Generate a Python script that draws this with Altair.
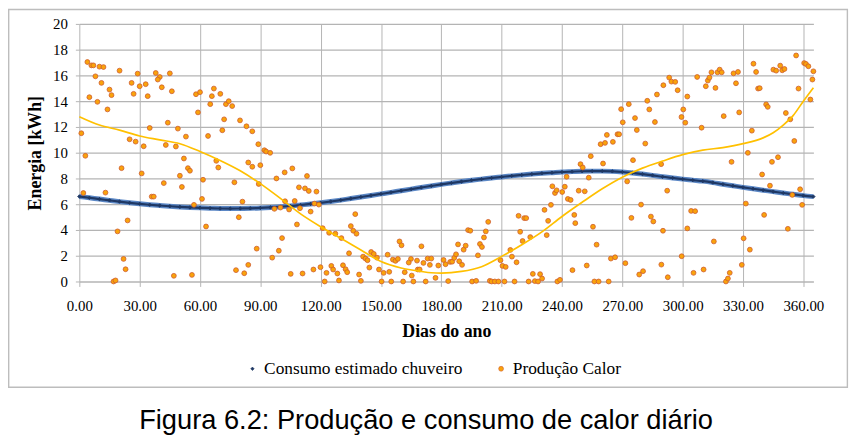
import altair as alt
import pandas as pd

SERIES = ["Consumo estimado chuveiro", "Produção Calor"]
CAPTION = "Figura 6.2: Produção e consumo de calor diário"

# Consumo estimado chuveiro (kWh), read every 5 days
cons_day = [0, 5, 10, 15, 20, 25, 30, 35, 40, 45, 50, 55, 60, 65, 70, 75, 80, 85, 90, 95,
            100, 105, 110, 115, 120, 125, 130, 135, 140, 145, 150, 155, 160, 165, 170, 175,
            180, 185, 190, 195, 200, 205, 210, 215, 220, 225, 230, 235, 240, 245, 250, 255,
            260, 265, 270, 275, 280, 285, 290, 295, 300, 305, 310, 315, 320, 325, 330, 335,
            340, 345, 350, 355, 360, 365]
cons_val = [6.60, 6.50, 6.40, 6.30, 6.20, 6.11, 6.03, 5.96, 5.90, 5.84, 5.79, 5.75, 5.72, 5.69,
            5.67, 5.66, 5.67, 5.68, 5.71, 5.75, 5.80, 5.86, 5.94, 6.02, 6.11, 6.21, 6.32, 6.44,
            6.56, 6.68, 6.80, 6.92, 7.05, 7.17, 7.30, 7.42, 7.54, 7.65, 7.76, 7.86, 7.95, 8.04,
            8.12, 8.20, 8.27, 8.34, 8.40, 8.45, 8.50, 8.53, 8.56, 8.57, 8.57, 8.55, 8.50, 8.43,
            8.34, 8.24, 8.13, 8.04, 7.95, 7.87, 7.79, 7.68, 7.55, 7.43, 7.31, 7.20, 7.09, 6.98,
            6.87, 6.77, 6.67, 6.59]

# Produção Calor (kWh) - daily scatter
prod_day = [
    4, 6, 7, 10, 12, 20, 29, 38, 40, 39, 45, 8, 11, 26, 30, 33, 41, 46, 15, 16, 5, 9, 27, 34, 14,
    58, 60, 59, 44, 35, 49, 1, 53, 25, 28, 32, 43, 48, 52, 3, 21, 31, 54, 55, 50, 42, 51, 61.5, 2,
    13, 36, 37, 57, 61, 24, 19, 22, 23, 47, 56, 17, 18,
    66.9, 65.9, 70.1, 65.1, 72.9, 74.3, 76.0, 72.0, 79.9, 83.1, 86.0, 71.1, 64.0, 89.0, 92.0,
    92.9, 94.9, 68.1, 69.1, 84.0, 86.0, 90.0, 102.1, 105.9, 113.2, 98.0, 77.1, 109.2, 112.2,
    114.1, 117.9, 89.2, 81.1, 102.3, 107.1, 97.0, 100.0, 104.3, 109.7, 116.9, 119.1, 115.0,
    79.3, 63.0, 108.2, 121.0, 100.8, 88.2, 99.2, 95.9, 84.0, 77.9, 82.0, 119.9, 116.4, 105.1,
    111.0, 122.9, 122.0,
    137.2, 135.0, 136.2, 137.8, 124.2, 127.3, 130.3, 134.1, 141.1, 142.3, 143.3, 145.1, 146.4,
    148.0, 153.3, 155.9, 157.2, 158.4, 159.2, 160.2, 164.9, 163.8, 167.9, 170.1, 171.1, 173.2,
    174.3, 175.0, 178.5, 181.1, 182.1, 184.4, 125.3, 126.2, 128.3, 129.1, 131.1, 132.4, 133.2,
    139.1, 140.0, 144.2, 149.0, 150.3, 151.3, 154.1, 155.1, 161.0, 161.8, 165.3, 166.1, 168.3,
    169.2, 172.2, 177.1, 183.4,
    185.4, 186.4, 187.3, 188.3, 191.1, 192.1, 188.9, 190.3, 193.3, 194.4, 198.2, 199.2, 200.2,
    201.2, 202.1, 203.3, 209.4, 210.4, 212.0, 214.3, 215.1, 217.4, 218.4, 219.2, 220.4, 221.2,
    222.2, 224.2, 225.5, 229.1, 230.1, 231.3, 232.4, 233.1, 234.5, 235.2, 236.5, 237.3, 240.1,
    241.4, 242.3, 242.9, 244.3, 245.2, 246.1, 246.6, 195.3, 197.3, 204.1, 205.0, 206.6, 208.4,
    211.4, 216.4, 223.4, 226.5, 228.1, 237.7, 239.0,
    249.2, 250.3, 254.3, 253.3, 248.3, 251.3, 255.4, 257.2, 260.4, 259.2, 261.4, 262.3, 265.3,
    267.6, 268.4, 269.4, 270.2, 273.2, 275.3, 276.3, 277.2, 281.4, 272.4, 279.3, 274.5, 282.4,
    283.4, 286.2, 287.2, 289.3, 290.4, 292.3, 293.3, 294.4, 296.3, 297.5, 302.3, 300.3, 299.4,
    301.3, 307.2, 284.2, 285.4, 290.2, 302.3, 304.2, 306.2, 264.3, 266.4, 271.5, 289.4, 299.5,
    252.3, 256.1, 258.2, 263.2, 278.4, 280.3, 292.6, 305.4,
    311.5, 312.5, 313.3, 314.3, 317.3, 318.4, 319.4, 316.3, 325.3, 327.5, 326.5, 335.2, 336.5,
    337.5, 338.3, 345.1, 346.5, 348.5, 349.5, 350.6, 356.4, 360.4, 361.3, 362.5, 365.0, 364.5,
    357.6, 363.5, 341.5, 342.3, 351.3, 353.5, 328.1, 320.4, 309.4, 334.4, 355.5, 332.4, 324.3,
    344.4, 347.4, 339.5, 343.4, 354.5, 358.4, 359.4, 331.4, 340.5, 352.3, 330.3, 333.4, 315.5,
    329.4, 310.4, 321.5, 322.5, 323.4,
]
prod_val = [
    17.04, 16.78, 16.78, 16.68, 16.65, 16.37, 16.14, 16.19, 15.88, 15.68, 16.16, 15.93, 15.42,
    15.42, 15.16, 15.32, 15.08, 14.77, 14.90, 14.47, 14.31, 13.95, 14.57, 14.39, 13.36, 14.54,
    14.70, 13.13, 12.33, 11.92, 11.87, 11.51, 11.25, 11.04, 10.86, 10.50, 10.60, 10.48, 9.55,
    9.76, 8.80, 8.39, 8.80, 8.60, 8.21, 7.64, 7.34, 7.90, 6.87, 6.90, 6.59, 6.59, 5.95, 6.41,
    4.74, 3.89, 1.75, 0.95, 0.44, 0.51, 0.00, 0.08,
    14.98, 14.39, 14.57, 13.77, 13.77, 14.00, 13.62, 12.59, 12.51, 12.05, 11.66, 11.74, 11.30,
    10.66, 10.19, 10.09, 9.99, 9.37, 8.85, 9.24, 8.91, 9.03, 8.47, 8.78, 8.19, 8.00, 7.70, 7.31,
    7.23, 7.03, 6.98, 7.57, 6.20, 6.23, 6.25, 5.64, 5.74, 5.59, 5.69, 6.05, 5.97, 5.43, 4.99,
    4.27, 4.43, 4.14, 3.37, 2.55, 2.39, 1.85, 1.29, 0.88, 0.64, 1.11, 0.93, 0.59, 0.62, 0.67,
    0.00,
    5.23, 4.30, 3.94, 3.71, 3.78, 3.71, 3.37, 2.19, 1.93, 1.78, 1.65, 2.29, 2.14, 1.85, 2.08,
    1.70, 1.60, 1.75, 3.11, 2.81, 1.75, 1.47, 1.62, 2.73, 1.44, 1.78, 1.29, 1.78, 1.24, 1.67,
    1.34, 1.52, 1.21, 0.93, 0.62, 0.08, 1.26, 0.95, 0.72, 0.54, 0.05, 1.08, 0.93, 0.00, 0.67,
    0.75, 0.00, 0.00, 0.72, 0.46, 0.00, 0.93, 0.93, 0.00, 0.28, 0.03,
    1.54, 1.83, 2.11, 2.88, 2.47, 2.78, 1.57, 1.29, 3.99, 3.94, 2.03, 2.91, 2.68, 3.42, 3.89,
    4.63, 1.65, 1.21, 1.13, 2.45, 1.93, 1.49, 5.10, 3.86, 3.14, 4.92, 4.92, 3.45, 0.59, 0.57,
    0.23, 5.56, 3.60, 4.71, 5.95, 7.39, 6.87, 7.08, 6.95, 7.36, 8.13, 6.41, 6.33, 0.88, 5.17,
    4.53, 0.00, 0.05, 0.05, 0.00, 0.00, 0.00, 0.00, 0.00, 0.00, 0.03, 0.00, 0.00, 0.13,
    9.11, 8.85, 9.73, 8.06, 7.05, 7.00, 4.25, 2.86, 9.16, 10.66, 10.76, 11.38, 10.84, 11.43,
    11.43, 13.38, 12.36, 13.77, 9.42, 12.69, 11.76, 10.71, 7.77, 5.97, 4.94, 14.03, 13.36,
    12.38, 14.52, 9.11, 15.24, 7.05, 15.83, 15.52, 15.50, 14.85, 14.36, 13.36, 12.77, 12.33,
    15.88, 5.04, 4.66, 3.94, 4.12, 5.48, 5.46, 1.78, 1.88, 1.42, 1.31, 1.96, 1.24, 0.00, 0.00,
    0.00, 0.54, 0.80, 0.33, 0.67,
    15.16, 15.60, 15.83, 16.24, 16.24, 16.45, 16.24, 15.03, 16.16, 16.27, 15.39, 16.91, 16.27,
    14.98, 15.01, 16.45, 16.37, 16.76, 16.40, 16.50, 17.55, 16.96, 16.89, 16.71, 16.32, 15.68,
    14.98, 14.13, 13.75, 13.56, 13.08, 12.59, 13.13, 12.84, 11.94, 11.71, 10.91, 9.99, 9.29,
    9.29, 9.65, 8.31, 7.44, 6.72, 7.16, 5.95, 6.05, 5.17, 4.09, 3.35, 2.47, 3.11, 1.29, 0.93,
    0.00, 0.23, 0.67,
]

# Polynomial trend line of Produção Calor
trend_day = [0, 10, 20, 30, 40, 50, 60, 70, 80, 90, 100, 110, 120, 130, 140, 150, 160, 170,
             175, 180, 190, 200, 210, 220, 230, 240, 250, 260, 270, 280, 290, 300, 310, 320,
             330, 340, 345, 350, 355, 360, 365]
trend_val = [12.8, 12.15, 11.75, 11.3, 11.0, 10.7, 10.1, 9.4, 8.6, 7.6, 6.45, 5.25, 4.25, 3.35,
             2.45, 1.55, 1.05, 0.78, 0.68, 0.65, 0.78, 1.15, 1.95, 2.85, 3.85, 5.05, 6.15, 7.2,
             8.1, 8.8, 9.35, 9.85, 10.2, 10.4, 10.7, 11.15, 11.55, 12.15, 12.9, 14.0, 15.05]

x_ticks = [0, 30, 60, 90, 120, 150, 180, 210, 240, 270, 300, 330, 360]
y_ticks = [0, 2, 4, 6, 8, 10, 12, 14, 16, 18, 20]

cons = pd.DataFrame({"dia": cons_day, "energia": cons_val, "serie": SERIES[0]})
prod = pd.DataFrame({"dia": prod_day, "energia": prod_val, "serie": SERIES[1]})
points = pd.concat([cons, prod], ignore_index=True)
trend = pd.DataFrame({"dia": trend_day, "energia": trend_val})

SERIF = "Liberation Serif"
GRID = "#B4B4B4"

x_enc = alt.X("dia:Q", scale=alt.Scale(domain=[0, 365], nice=False, zero=False),
              axis=alt.Axis(values=x_ticks, format=".2f", title="Dias do ano",
                            labelFont=SERIF, labelFontSize=15, labelColor="#000000",
                            labelPadding=12, tickSize=5, tickColor=GRID, tickWidth=1,
                            grid=True, gridColor=GRID, gridWidth=1, domain=False,
                            titleFont=SERIF, titleFontSize=18, titleFontWeight="bold",
                            titleColor="#000000", titlePadding=10, labelFlush=False,
                            labelOverlap=False))
y_enc = alt.Y("energia:Q", scale=alt.Scale(domain=[0, 20], nice=False),
              axis=alt.Axis(values=y_ticks, format="d", title="Energia [kWh]",
                            labelFont=SERIF, labelFontSize=15, labelColor="#000000",
                            labelPadding=8, tickSize=4, tickColor=GRID, tickWidth=1,
                            grid=True, gridColor=GRID, gridWidth=1.3, domain=False,
                            titleFont=SERIF, titleFontSize=18, titleFontWeight="bold",
                            titleColor="#000000", titlePadding=8, labelOverlap=False))

color_scale = alt.Scale(domain=SERIES, range=["#1F3864", "#F9A30B"])
shape_scale = alt.Scale(domain=SERIES, range=["diamond", "circle"])
stroke_scale = alt.Scale(domain=SERIES, range=["#1F3864", "#CF5B2E"])
size_scale = alt.Scale(domain=SERIES, range=[12, 24])

band_light = alt.Chart(cons).mark_line(color="#5B87C5", strokeWidth=5, interpolate="monotone").encode(x=x_enc, y=y_enc)
band_dark = alt.Chart(cons).mark_line(color="#1F3864", strokeWidth=2.2, interpolate="monotone").encode(x=x_enc, y=y_enc)

pts = alt.Chart(points).mark_point(filled=True, opacity=1, strokeWidth=0.8).encode(
    x=x_enc, y=y_enc,
    color=alt.Color("serie:N", scale=color_scale, legend=alt.Legend(title=None)),
    shape=alt.Shape("serie:N", scale=shape_scale, legend=alt.Legend(title=None)),
    stroke=alt.Stroke("serie:N", scale=stroke_scale, legend=None),
    size=alt.Size("serie:N", scale=size_scale, legend=None),
)
trend_line = alt.Chart(trend).mark_line(color="#FFC000", strokeWidth=1.7, interpolate="monotone").encode(x=x_enc, y=y_enc)

frame_df = pd.DataFrame({"k": [0]})
frame = alt.Chart(frame_df).mark_rect(fillOpacity=0, stroke="#BDBDBD", strokeWidth=1.4).encode(
    x=alt.value(-71.3), x2=alt.value(775.3), y=alt.value(-14.5), y2=alt.value(366.7))
caption = alt.Chart(frame_df).mark_text(font="Liberation Sans", fontSize=27.5, align="center",
                                          baseline="alphabetic", color="#000000").encode(
    x=alt.value(350), y=alt.value(409), text=alt.value(CAPTION))

chart = alt.layer(frame, band_light, band_dark, pts, trend_line, caption).properties(
    width=741, height=260,
    autosize=alt.AutoSizeParams(type="none"),
    padding={"left": 72, "top": 14, "right": 43, "bottom": 164},
    background="#FFFFFF",
).configure_view(stroke=None).configure_legend(
    orient="none", legendX=166, legendY=339, direction="horizontal",
    labelFont=SERIF, labelFontSize=17.5, labelColor="#000000", symbolSize=22,
    labelOffset=3, columnPadding=30, padding=0, symbolStrokeWidth=0.6, labelLimit=0,
)

chart.save("out.html", embed_options={"renderer": "svg", "actions": False})
